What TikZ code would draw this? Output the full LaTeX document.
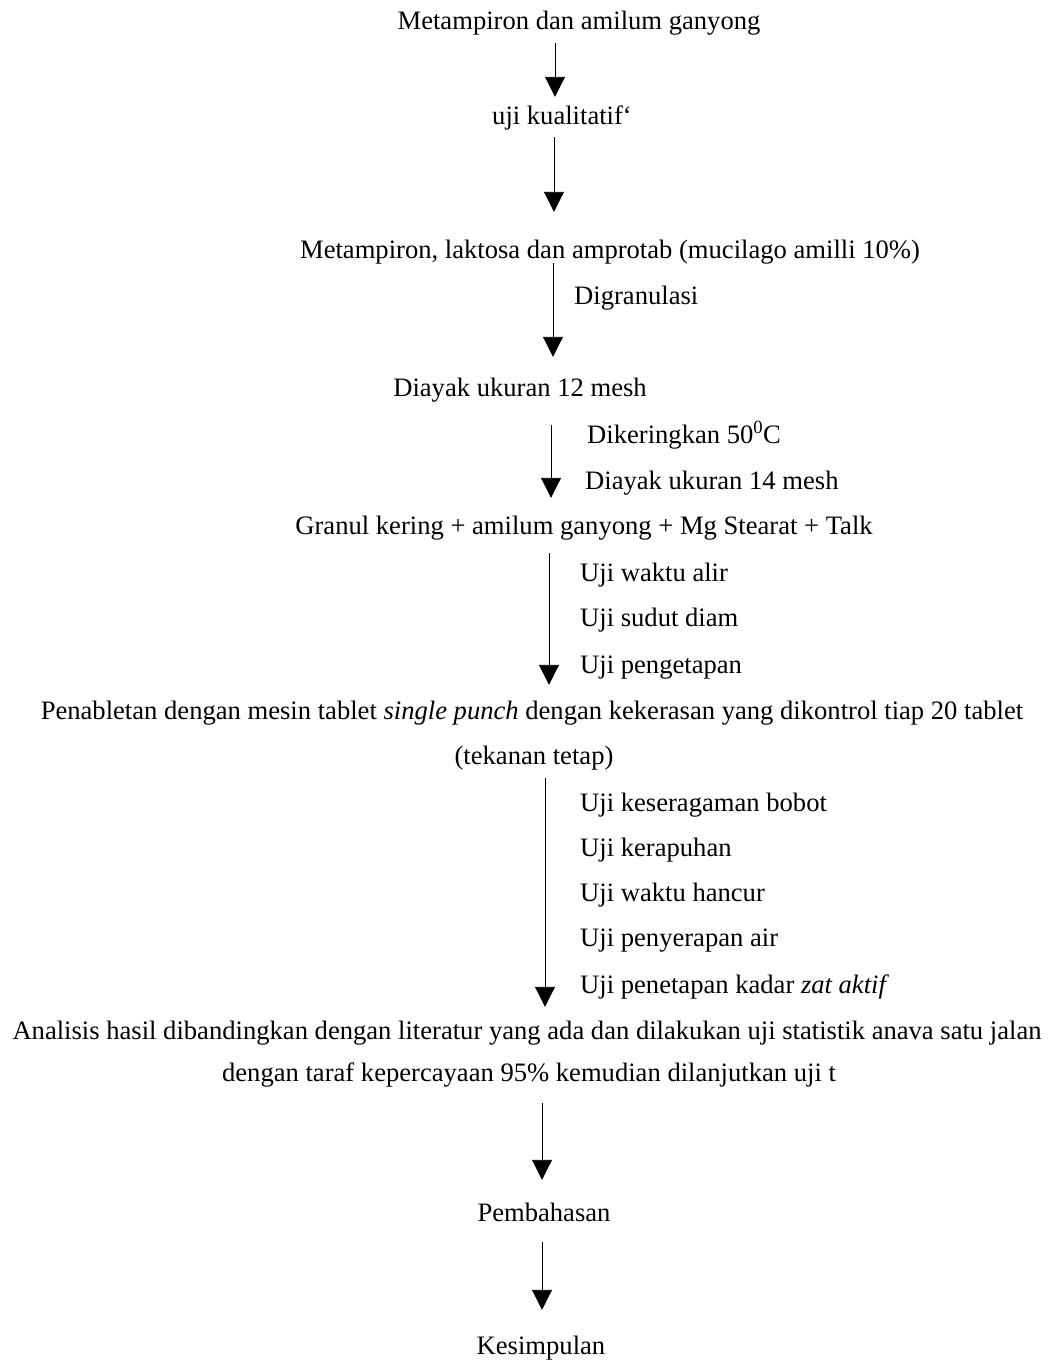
\documentclass[tikz,border=0pt]{standalone}
\usepackage{fontspec}
\setmainfont{Liberation Serif}
\usetikzlibrary{arrows.meta}
\begin{document}
\begin{tikzpicture}[x=1pt,y=-1pt,
  every node/.style={font=\fontsize{26.6}{30}\selectfont, inner sep=0pt, text height=17pt, text depth=6pt},
  mainnode/.style={anchor=base},
  sidenode/.style={anchor=base west},
  arr/.style={line width=0.9pt, -{Triangle[width=20pt,length=20pt]}}]
\useasboundingbox[fill=white] (0,0) rectangle (1052,1363);
% main nodes
\node[mainnode] (n1) at (579,29) {Metampiron dan amilum ganyong};
\node[mainnode] (n2) at (562,124) {uji kualitatif`};
\node[mainnode] (n3) at (610,258) {Metampiron, laktosa dan amprotab (mucilago amilli 10\%)};
\node[mainnode] (n4) at (520,396) {Diayak ukuran 12 mesh};
\node[mainnode] (n5) at (584,534) {Granul kering + amilum ganyong + Mg Stearat + Talk};
\node[mainnode] (n6) at (532,719) {Penabletan dengan mesin tablet \textit{single punch} dengan kekerasan yang dikontrol tiap 20 tablet};
\node[mainnode] (n6b) at (534,764) {(tekanan tetap)};
\node[mainnode] (n7) at (527,1039) {Analisis hasil dibandingkan dengan literatur yang ada dan dilakukan uji statistik anava satu jalan};
\node[mainnode] (n7b) at (529,1081) {dengan taraf kepercayaan 95\% kemudian dilanjutkan uji t};
\node[mainnode] (n8) at (544,1221) {Pembahasan};
\node[mainnode] (n9) at (541,1354) {Kesimpulan};
% side labels
\node[sidenode] (l1) at (574,304) {Digranulasi};
\node[sidenode] (l2) at (587,443) {Dikeringkan 50\textsuperscript{0}C};
\node[sidenode] (l3) at (585,489) {Diayak ukuran 14 mesh};
\node[sidenode] (l4) at (580,581) {Uji waktu alir};
\node[sidenode] (l5) at (580,626) {Uji sudut diam};
\node[sidenode] (l6) at (580,673) {Uji pengetapan};
\node[sidenode] (l7) at (580,811) {Uji keseragaman bobot};
\node[sidenode] (l8) at (580,856) {Uji kerapuhan};
\node[sidenode] (l9) at (580,901) {Uji waktu hancur};
\node[sidenode] (l10) at (580,946) {Uji penyerapan air};
\node[sidenode] (l11) at (580,993) {Uji penetapan kadar \textit{zat aktif}};
% arrow columns
\coordinate (x1) at (555,0);
\coordinate (x2) at (554,0);
\coordinate (x3) at (553,0);
\coordinate (x4) at (551,0);
\coordinate (x5) at (549,0);
\coordinate (x6) at (545,0);
\coordinate (x7) at (542,0);
% connectors
\draw[arr, shorten <=8pt, shorten >=10pt] (n1.south -| x1) -- (n2.north -| x1);
\draw[arr, shorten <=7pt, shorten >=29pt] (n2.south -| x2) -- (n3.north -| x2);
\draw[arr, shorten <=-1pt, shorten >=22pt] (n3.south -| x3) -- (n4.north -| x3);
\draw[arr, shorten <=23pt, shorten >=19pt] (n4.south -| x4) -- (n5.north -| x4);
\draw[arr, shorten <=13pt, shorten >=17pt] (n5.south -| x5) -- (n6.north -| x5);
\draw[arr, shorten <=8pt, shorten >=15pt] (n6b.south -| x6) -- (n7.north -| x6);
\draw[arr, shorten <=16pt, shorten >=24pt] (n7b.south -| x7) -- (n8.north -| x7);
\draw[arr, shorten <=15pt, shorten >=27pt] (n8.south -| x7) -- (n9.north -| x7);
\end{tikzpicture}
\end{document}
